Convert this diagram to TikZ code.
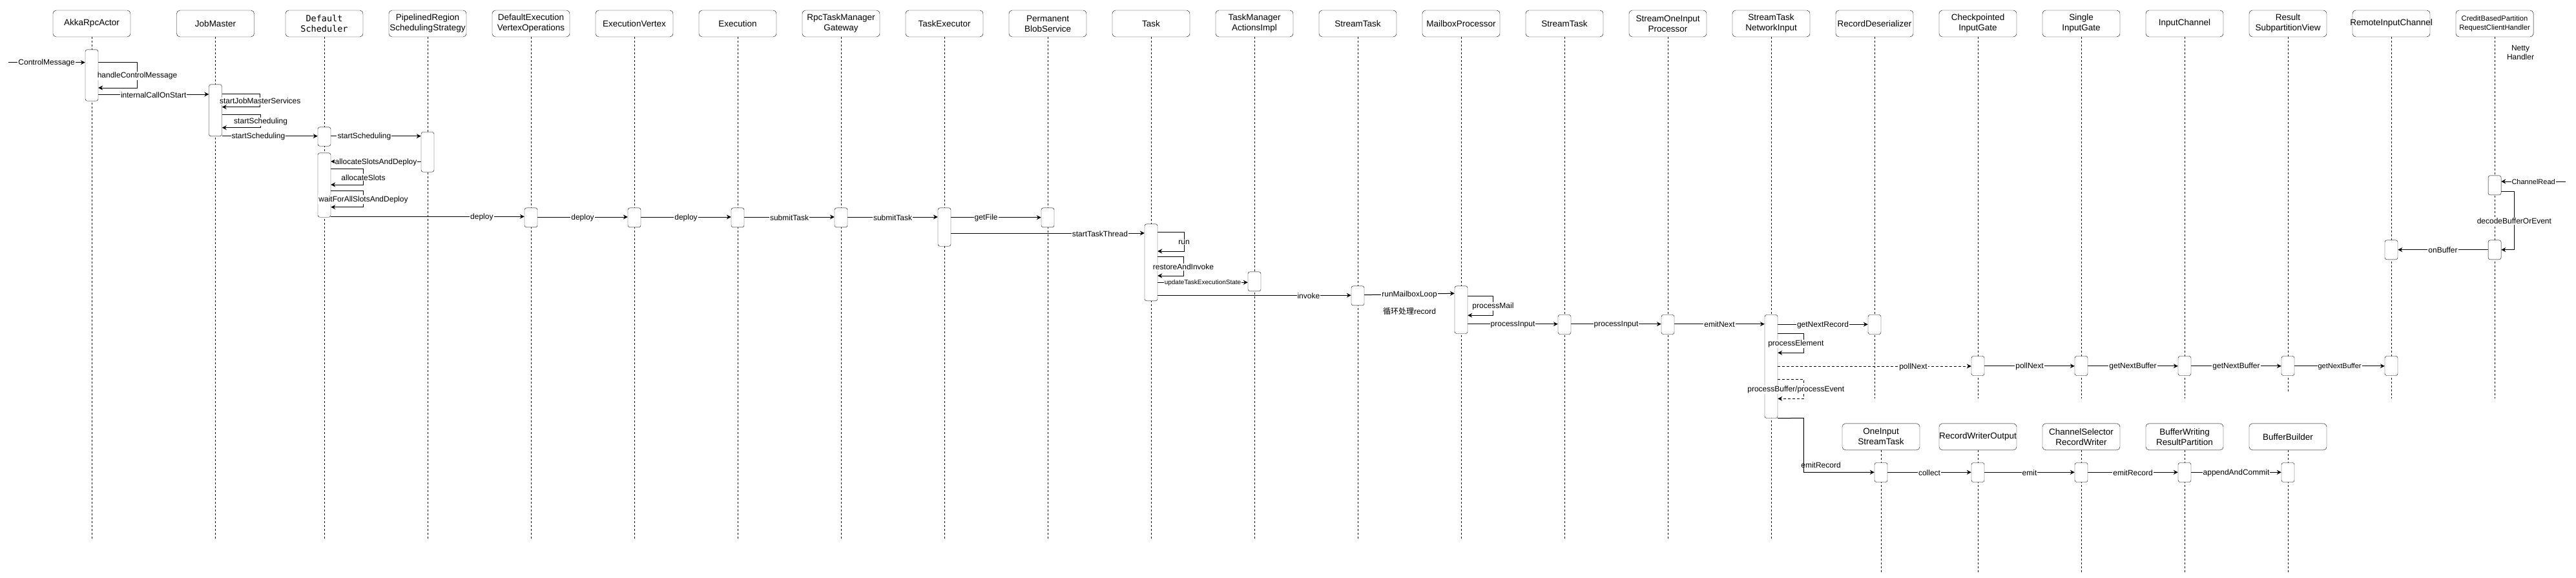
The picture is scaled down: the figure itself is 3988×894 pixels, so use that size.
\documentclass[tikz,border=0pt]{standalone}
\usepackage{fontspec}
\setmainfont{Liberation Sans}
\setmonofont{DejaVu Sans Mono}
\newfontfamily\cjkfont{Noto Sans CJK SC}
\usetikzlibrary{arrows.meta}
\tikzset{
  head/.style={rectangle, draw, rounded corners=5pt, minimum width=120pt,
    minimum height=41pt, inner sep=0pt, align=center,
    font=\fontsize{13.5}{16}\selectfont},
  act/.style={rectangle, draw, fill=white, rounded corners=3pt,
    minimum width=20pt, minimum height=30pt, inner sep=0pt, anchor=north},
  life/.style={line width=0.8pt, dash pattern=on 3pt off 3pt},
  msg/.style={line width=1pt, -{Stealth[length=7pt, width=7pt]}},
  dmsg/.style={msg, dash pattern=on 4pt off 3pt},
  lbl/.style={fill=white, inner sep=1pt, yshift=-1pt,
    font=\fontsize{12}{14.4}\selectfont},
  smalllbl/.style={lbl, font=\fontsize{10}{12}\selectfont},
  midlbl/.style={lbl, font=\fontsize{11}{13}\selectfont}
}

\begin{document}
\begin{tikzpicture}[x=1pt, y=-1pt]
  \useasboundingbox (0,0) rectangle (3988,894);

  % participants
  \node[head] (akka) at (142,36.5) {AkkaRpcActor};
  \node[head] (jm) at (333.5,36.5) {JobMaster};
  \node[head, font=\ttfamily\fontsize{13.5}{16}\selectfont] (sched) at (502,36.5) {Default\\Scheduler};
  \node[head] (strat) at (662,36.5) {PipelinedRegion\\\makebox[112pt]{SchedulingStrategy}};
  \node[head] (ops) at (822,36.5) {DefaultExecution\\VertexOperations};
  \node[head] (ev) at (982,36.5) {ExecutionVertex};
  \node[head] (exec) at (1142,36.5) {Execution};
  \node[head] (gw) at (1302,36.5) {RpcTaskManager\\Gateway};
  \node[head] (te) at (1462,36.5) {TaskExecutor};
  \node[head] (blob) at (1622,36.5) {Permanent\\BlobService};
  \node[head] (task) at (1782,36.5) {Task};
  \node[head] (tma) at (1942,36.5) {TaskManager\\ActionsImpl};
  \node[head] (st) at (2102,36.5) {StreamTask};
  \node[head] (mbox) at (2262,36.5) {MailboxProcessor};
  \node[head] (st2) at (2422,36.5) {StreamTask};
  \node[head] (proc) at (2582,36.5) {StreamOneInput\\Processor};
  \node[head] (nin) at (2742,36.5) {StreamTask\\NetworkInput};
  \node[head] (deser) at (2902,36.5) {\makebox[112pt]{RecordDeserializer}};
  \node[head] (cig) at (3062,36.5) {Checkpointed\\InputGate};
  \node[head] (sig) at (3222,36.5) {Single\\InputGate};
  \node[head] (ich) at (3382,36.5) {InputChannel};
  \node[head] (rsv) at (3542,36.5) {Result\\SubpartitionView};
  \node[head] (ric) at (3702,36.5) {\makebox[112pt]{RemoteInputChannel}};
  \node[head, font=\fontsize{11.2}{14}\selectfont] (cb) at (3862,36.5) {CreditBasedPartition\\RequestClientHandler};
  \node[lbl, fill=none, yshift=0pt, align=center] (netty) at (3902,80.5) {Netty\\Handler};

  % second row of participants
  \node[head] (one) at (2912,676.3) {OneInput\\StreamTask};
  \node[head] (rwo) at (3062,676.3) {\makebox[112pt]{RecordWriterOutput}};
  \node[head] (csw) at (3222,676.3) {ChannelSelector\\RecordWriter};
  \node[head] (bwp) at (3382,676.3) {BufferWriting\\ResultPartition};
  \node[head] (bb) at (3542,676.3) {BufferBuilder};

  % lifelines
  \foreach \n in {akka,jm,sched,strat,ops,ev,exec,gw,te,blob,task,tma,st,mbox,st2,proc,nin}
    \draw[life] (\n.south) -- (\n.south |- 0,836.7);
  \foreach \n in {deser,cig,sig,ich,ric,cb}
    \draw[life] (\n.south) -- (\n.south |- 0,616.7);
  \draw[life] (rsv.south) -- (rsv.south |- 0,606.7);
  \foreach \n in {one,rwo,csw,bwp,bb}
    \draw[life] (\n.south) -- (\n.south |- 0,886.7);

  % activations
  \node[act, minimum height=79.3pt] (akkaA) at (142,76.7) {};
  \node[act, minimum height=80pt] (jmA) at (333.5,130.7) {};
  \node[act, minimum height=29.3pt] (schedA) at (502,196.7) {};
  \node[act, minimum height=61.7pt] (stratA) at (662,204.3) {};
  \node[act, minimum height=99.3pt] (schedB) at (502,236.7) {};
  \node[act] (opsA) at (822,321.7) {};
  \node[act] (evA) at (982,321.7) {};
  \node[act] (execA) at (1142,321.7) {};
  \node[act] (gwA) at (1302,321.7) {};
  \node[act, minimum height=59.3pt] (teA) at (1462,321.7) {};
  \node[act] (blobA) at (1622,321.7) {};
  \node[act, minimum height=119pt] (taskA) at (1782,346.7) {};
  \node[act] (tmaA) at (1942,420.7) {};
  \node[act] (stA) at (2102,442.7) {};
  \node[act, minimum height=73.6pt] (mboxA) at (2262,442.7) {};
  \node[act] (st2A) at (2422,487.3) {};
  \node[act] (procA) at (2582,487.3) {};
  \node[act, minimum height=160pt] (ninA) at (2742,487.3) {};
  \node[act] (deserA) at (2902,487.3) {};
  \node[act] (cigA) at (3062,551.3) {};
  \node[act] (sigA) at (3222,551.3) {};
  \node[act] (ichA) at (3382,551.3) {};
  \node[act] (rsvA) at (3542,551.3) {};
  \node[act] (ricA) at (3702,551.3) {};
  \node[act] (ricB) at (3702,371.7) {};
  \node[act] (cbA) at (3862,271.7) {};
  \node[act] (cbB) at (3862,371.7) {};
  \node[act] (oneA) at (2912,716.3) {};
  \node[act] (rwoA) at (3062,716.3) {};
  \node[act] (cswA) at (3222,716.3) {};
  \node[act] (bwpA) at (3382,716.3) {};
  \node[act] (bbA) at (3542,716.3) {};

  \coordinate (ctrlsrc) at (12.5,96.7);
  \coordinate (netsrc) at (3972,281);

  % job master side
  \draw[msg] (ctrlsrc) -- node[lbl]{ControlMessage} (akkaA.west |- ctrlsrc);
  \draw[msg] (akkaA.east |- 0,96.7) -- (212.5,96.7) -- node[lbl]{handleControlMessage} (212.5,136) -- (akkaA.east |- 0,136);
  \draw[msg] (akkaA.east |- 0,146) -- node[lbl]{internalCallOnStart} (jmA.west |- 0,146);
  \draw[msg] (jmA.east |- 0,145.3) -- (402.7,145.3) -- node[lbl]{startJobMasterServices} (402.7,165.7) -- (jmA.east |- 0,165.7);
  \draw[msg] (jmA.east |- 0,177.3) -- (403.6,177.3) -- node[lbl]{startScheduling} (403.6,197.7) -- (jmA.east |- 0,197.7);
  \draw[msg] (jmA.east |- 0,210.7) -- node[lbl, pos=0.38]{startScheduling} (schedA.west |- 0,210.7);
  \draw[msg] (schedA.east |- 0,210.7) -- node[lbl, pos=0.37]{startScheduling} (stratA.west |- 0,210.7);
  \draw[msg] (stratA.west |- 0,250) -- node[lbl]{allocateSlotsAndDeploy} (schedB.east |- 0,250);
  \draw[msg] (schedB.east |- 0,261.7) -- (562.5,261.7) -- node[lbl]{allocateSlots} (562.5,286) -- (schedB.east |- 0,286);
  \draw[msg] (schedB.east |- 0,295.3) -- (562.5,295.3) -- node[lbl]{waitForAllSlotsAndDeploy} (562.5,320.7) -- (schedB.east |- 0,320.7);

  % deployment
  \draw[msg] (schedB.east |- 0,335.3) -- node[lbl, pos=0.78]{deploy} (opsA.west |- 0,335.3);
  \draw[msg] (opsA.east |- 0,336) -- node[lbl]{deploy} (evA.west |- 0,336);
  \draw[msg] (evA.east |- 0,336) -- node[lbl]{deploy} (execA.west |- 0,336);
  \draw[msg] (execA.east |- 0,336) -- node[lbl]{submitTask} (gwA.west |- 0,336);
  \draw[msg] (gwA.east |- 0,336) -- node[lbl]{submitTask} (teA.west |- 0,336);
  \draw[msg] (teA.east |- 0,336.7) -- node[lbl, pos=0.39]{getFile} (blobA.west |- 0,336.7);
  \draw[msg] (teA.east |- 0,361) -- node[lbl, pos=0.77]{startTaskThread} (taskA.west |- 0,361);
  \draw[msg] (taskA.east |- 0,359.3) -- (1833,359.3) -- node[lbl]{run} (1833,389) -- (taskA.east |- 0,389);
  \draw[msg] (taskA.east |- 0,397.3) -- (1832,397.3) -- node[lbl]{restoreAndInvoke} (1832,427) -- (taskA.east |- 0,427);
  \draw[msg] (taskA.east |- 0,437.3) -- node[smalllbl]{updateTaskExecutionState} (tmaA.west |- 0,437.3);
  \draw[msg] (taskA.east |- 0,457.3) -- node[lbl, pos=0.78]{invoke} (stA.west |- 0,457.3);

  % stream task
  \draw[msg] (stA.east |- 0,456.7) -- node[lbl]{runMailboxLoop} (mboxA.west |- 0,454.3);
  \node[lbl, fill=none] (loopnote) at (2182,480.7) {{\cjkfont 循环处理}record};
  \draw[msg] (mboxA.east |- 0,458.3) -- (2311.4,458.3) -- node[lbl]{processMail} (2311.4,488.3) -- (mboxA.east |- 0,488.3);
  \draw[msg] (mboxA.east |- 0,501.7) -- node[lbl]{processInput} (st2A.west |- 0,501.7);
  \draw[msg] (st2A.east |- 0,501.7) -- node[lbl]{processInput} (procA.west |- 0,501.7);
  \draw[msg] (procA.east |- 0,501.7) -- node[lbl]{emitNext} (ninA.west |- 0,501.7);
  \draw[msg] (ninA.east |- 0,502.3) -- node[lbl]{getNextRecord} (deserA.west |- 0,502.3);
  \draw[msg] (ninA.east |- 0,516.3) -- (2792.3,516.3) -- node[lbl, xshift=-12pt]{processElement} (2792.3,546.3) -- (ninA.east |- 0,546.3);
  \draw[dmsg] (ninA.east |- 0,567) -- node[lbl, pos=0.7]{pollNext} (cigA.west |- 0,567);
  \draw[dmsg] (ninA.east |- 0,587) -- (2792.3,587) -- node[lbl, xshift=-12pt]{processBuffer/processEvent} (2792.3,617.3) -- (ninA.east |- 0,617.3);

  % input side
  \draw[msg] (cigA.east |- 0,566.7) -- node[lbl]{pollNext} (sigA.west |- 0,566.7);
  \draw[msg] (sigA.east |- 0,566.7) -- node[lbl]{getNextBuffer} (ichA.west |- 0,566.7);
  \draw[msg] (ichA.east |- 0,566.7) -- node[lbl]{getNextBuffer} (rsvA.west |- 0,566.7);
  \draw[msg] (rsvA.east |- 0,566.7) -- node[midlbl]{getNextBuffer} (ricA.west |- 0,566.7);

  % netty
  \draw[msg] (netsrc) -- node[midlbl]{ChannelRead} (cbA.east |- netsrc);
  \draw[msg] (cbA.east |- 0,296) -- (3892.3,296) -- node[lbl]{decodeBufferOrEvent} (3892.3,386.7) -- (cbB.east |- 0,386.7);
  \draw[msg] (cbB.west |- 0,386.7) -- node[lbl]{onBuffer} (ricB.east |- 0,386.7);

  % output side
  \draw[msg] (ninA.south east) -- (2792.3,647.3) -- (2792.3,731.3) -- (oneA.west |- 0,731.3);
  \node[lbl, fill=none] (emitlbl) at (2819,719) {emitRecord};
  \draw[msg] (oneA.east |- 0,731.3) -- node[lbl]{collect} (rwoA.west |- 0,731.3);
  \draw[msg] (rwoA.east |- 0,731.3) -- node[lbl]{emit} (cswA.west |- 0,731.3);
  \draw[msg] (cswA.east |- 0,731.3) -- node[lbl]{emitRecord} (bwpA.west |- 0,731.3);
  \draw[msg] (bwpA.east |- 0,731.3) -- node[lbl]{appendAndCommit} (bbA.west |- 0,731.3);
\end{tikzpicture}
\end{document}
